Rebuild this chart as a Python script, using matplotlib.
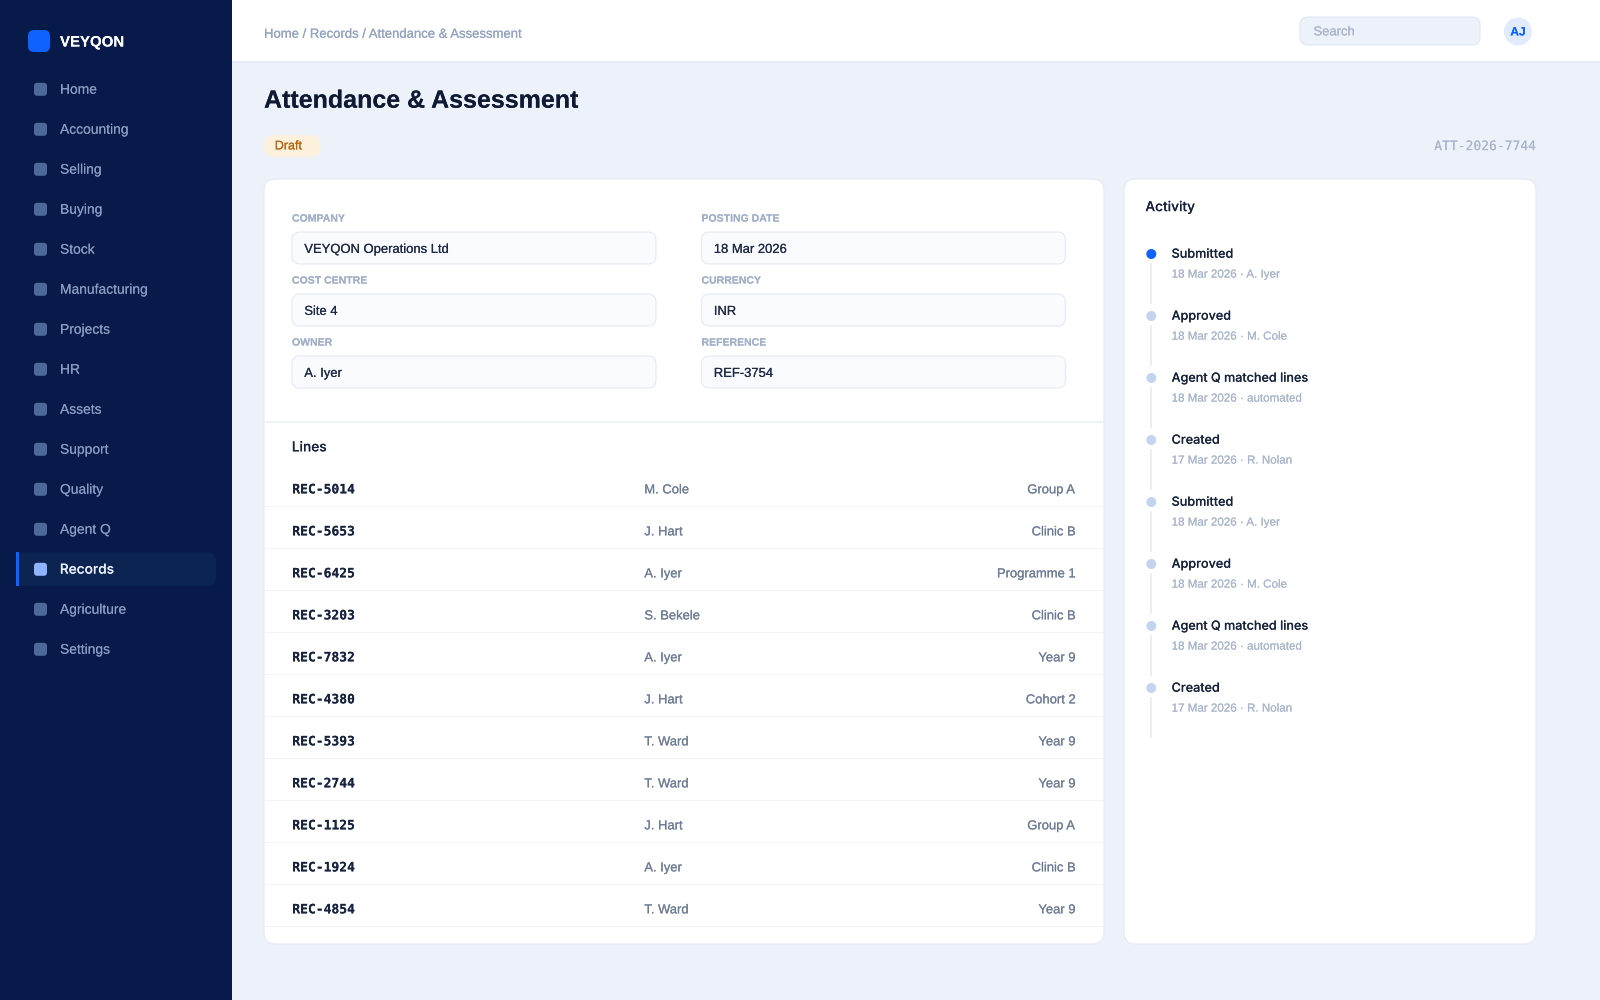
import matplotlib
matplotlib.use('Agg')
import matplotlib.pyplot as plt
import matplotlib.patheffects as pe
from matplotlib.patches import FancyBboxPatch, Circle, Rectangle

plt.rcParams['font.family'] = ['Liberation Sans', 'DejaVu Sans']
plt.rcParams['text.hinting'] = 'no_hinting'
plt.rcParams['text.hinting_factor'] = 1

# sidebar
nav_items = ['Home', 'Accounting', 'Selling', 'Buying', 'Stock', 'Manufacturing', 'Projects', 'HR',
             'Assets', 'Support', 'Quality', 'Agent Q', 'Records', 'Agriculture', 'Settings']
active_item = 'Records'

# form
field_labels_left = ['COMPANY', 'COST CENTRE', 'OWNER']
field_values_left = ['VEYQON Operations Ltd', 'Site 4', 'A. Iyer']
field_labels_right = ['POSTING DATE', 'CURRENCY', 'REFERENCE']
field_values_right = ['18 Mar 2026', 'INR', 'REF-3754']

# lines table
line_ids = ['REC-5014', 'REC-5653', 'REC-6425', 'REC-3203', 'REC-7832', 'REC-4380',
            'REC-5393', 'REC-2744', 'REC-1125', 'REC-1924', 'REC-4854']
line_people = ['M. Cole', 'J. Hart', 'A. Iyer', 'S. Bekele', 'A. Iyer', 'J. Hart',
               'T. Ward', 'T. Ward', 'J. Hart', 'A. Iyer', 'T. Ward']
line_groups = ['Group A', 'Clinic B', 'Programme 1', 'Clinic B', 'Year 9', 'Cohort 2',
               'Year 9', 'Year 9', 'Group A', 'Clinic B', 'Year 9']

# activity
activity_titles = ['Submitted', 'Approved', 'Agent Q matched lines', 'Created',
                   'Submitted', 'Approved', 'Agent Q matched lines', 'Created']
activity_subs = ['18 Mar 2026 · A. Iyer', '18 Mar 2026 · M. Cole', '18 Mar 2026 · automated', '17 Mar 2026 · R. Nolan',
                 '18 Mar 2026 · A. Iyer', '18 Mar 2026 · M. Cole', '18 Mar 2026 · automated', '17 Mar 2026 · R. Nolan']

fig = plt.figure(figsize=(16, 10), dpi=100)
ax = fig.add_axes([0, 0, 1, 1])
ax.set_xlim(0, 1600)
ax.set_ylim(1000, 0)
ax.axis('off')


def box(x0, y0, x1, y1, r, fc, ec='none', lw=0, z=1):
    p = FancyBboxPatch((x0 + r, y0 + r), x1 - x0 - 2 * r, y1 - y0 - 2 * r,
                       boxstyle='round,pad=%f,rounding_size=%f' % (r, r),
                       fc=fc, ec=ec, lw=lw, zorder=z)
    ax.add_patch(p)


def rect(x0, y0, x1, y1, fc, z=1):
    ax.add_patch(Rectangle((x0, y0), x1 - x0, y1 - y0, fc=fc, ec='none', zorder=z))


def label(x, y, s, px, color, weight='normal', ha='left', family=None, stroke=0.1):
    # y is the middle of the capitals; the path effect stops agg snapping rows by a pixel
    kw = {}
    if family:
        kw['family'] = family
    ax.text(x, y - 0.6 + 0.36 * px, s, fontsize=px * 0.72, color=color, weight=weight,
            ha=ha, va='baseline', zorder=5,
            path_effects=[pe.withStroke(linewidth=stroke, foreground=color)], **kw)


# backgrounds
rect(0, 0, 1600, 1000, '#edf1fa', 0)
rect(232, 0, 1600, 61, '#ffffff')
rect(232, 61, 1600, 62.5, '#e6ecf7')
rect(0, 0, 232, 1000, '#071a49')

# logo
box(28, 30, 50, 52, 6, '#0f62fe', z=2)
label(60, 41.7, 'VEYQON', 15, '#ffffff', 'bold', stroke=0)

# nav
for i, name in enumerate(nav_items):
    y = 89.3 + 40 * i
    is_active = name == active_item
    if is_active:
        box(16, y - 17, 216, y + 17, 8, '#0b2452', z=2)
        rect(16, y - 17, 19, y + 17, '#0f62fe', 3)
    box(34, y - 6.5, 47, y + 6.5, 3, '#8fb3ff' if is_active else '#4d6899', z=3)
    if is_active:
        label(59.8, y, name, 13.7, '#e8eefc', 'medium', family='Inter', stroke=0)
    else:
        label(60, y, name, 13.85, '#8a9ec4', stroke=0)

# top bar
label(264, 33.6, 'Home / Records / Attendance & Assessment', 13.1, '#93a3c0')
box(1300, 17, 1480, 45, 8, '#edf1fa', '#e0e7f5', 0.8, 2)
label(1313.5, 31.3, 'Search', 13, '#aab5cc', stroke=0.05)
ax.add_patch(Circle((1518, 31.5), 14, fc='#e2ebfd', ec='none', zorder=2))
label(1518, 31.7, 'AJ', 12, '#0f62fe', 'bold', ha='center', stroke=0)

# page heading
label(264, 99.3, 'Attendance & Assessment', 25, '#0f1b35', 'bold', stroke=0)
box(264, 135, 321, 157, 11, '#fdf1de', z=2)
label(274.8, 145.5, 'Draft', 12.5, '#b8650f')
label(1536, 146, 'ATT-2026-7744', 13, '#a9b5cb', ha='right', family='DejaVu Sans Mono', stroke=0)

# cards
box(264, 179, 1104, 944, 12, '#ffffff', '#e6ebf7', 0.9, 1)
box(1124, 179, 1536, 944, 12, '#ffffff', '#e6ebf7', 0.9, 1)

# form fields
for col_x, labels, values in [(292, field_labels_left, field_values_left),
                              (701.5, field_labels_right, field_values_right)]:
    for i in range(3):
        y0 = 232 + 62 * i
        label(col_x, y0 - 13.6, labels[i], 10.5, '#a2afc9', 'bold', stroke=0)
        box(col_x, y0, col_x + 364, y0 + 32, 8, '#fafbff', '#e6ebf7', 0.9, 2)
        label(col_x + 12.3, y0 + 16.8, values[i], 13, '#1d2945')

rect(265, 421, 1103, 422.7, '#eef2f9', 2)
label(291.8, 447, 'Lines', 13.7, '#17233f', 'medium', family='Inter', stroke=0)

# table rows
for i in range(len(line_ids)):
    y = 489.3 + 42 * i
    label(292.3, y, line_ids[i], 13, '#17233f', 'bold', family='DejaVu Sans Mono', stroke=0)
    label(644.3, y, line_people[i], 13, '#6e7c96')
    label(1075.7, y, line_groups[i], 13, '#6e7c96', ha='right')
    rect(265, y + 16.4, 1103, y + 17.9, '#f1f4fa', 2)

# activity
label(1145.4, 206.8, 'Activity', 13.7, '#17233f', 'medium', family='Inter', stroke=0)
for i in range(len(activity_titles)):
    y = 254 + 62 * i
    ax.add_patch(Circle((1151.3, y), 5, fc='#0f62fe' if i == 0 else '#c5d4ee', ec='none', zorder=3))
    rect(1150.3, y + 8.5, 1152.3, y + 50, '#e9eef8', 2)
    label(1171.6, y - 0.2, activity_titles[i], 12.6, '#17233f', 'medium', family='Inter', stroke=0)
    label(1171.6, y + 20, activity_subs[i], 11.6, '#a9b5cb', stroke=0.05)

fig.savefig('out.png', dpi=100)
